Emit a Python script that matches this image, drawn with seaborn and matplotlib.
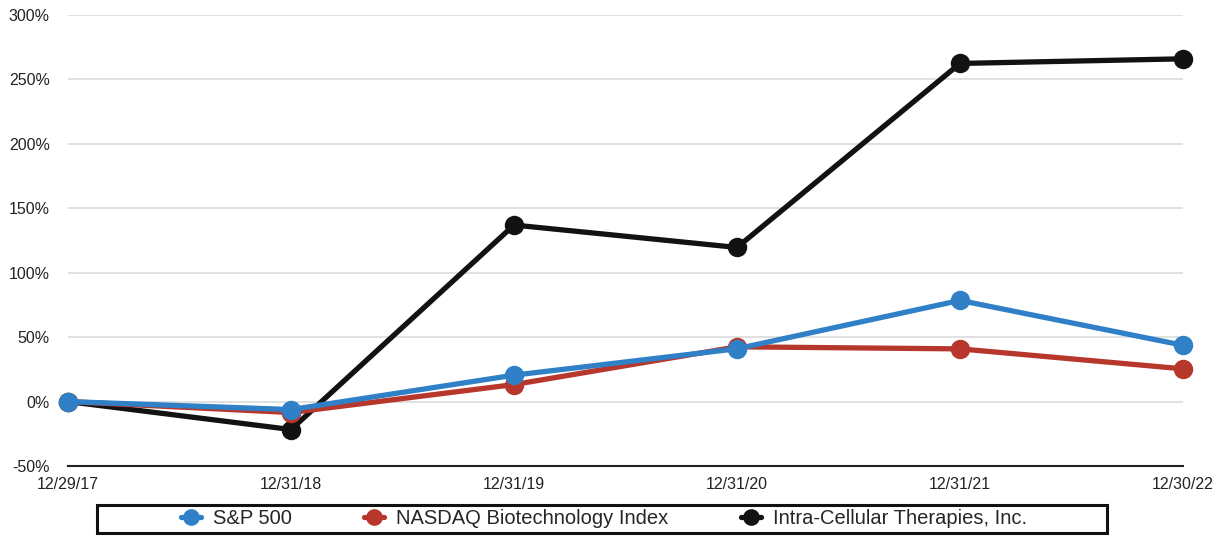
import matplotlib
matplotlib.use("Agg")
import matplotlib.pyplot as plt
import seaborn as sns
import pandas as pd
from matplotlib.patches import Rectangle
from matplotlib.lines import Line2D
from matplotlib.ticker import FuncFormatter

dates = ["12/29/17", "12/31/18", "12/31/19", "12/31/20", "12/31/21", "12/30/22"]
sp500 = [0.0, -6.2, 20.5, 41.0, 78.5, 43.7]
nasdaq_bio = [0.0, -8.5, 13.2, 42.5, 40.9, 25.4]
intra_cellular = [0.0, -21.7, 137.0, 119.6, 262.4, 266.0]
series_names = ["S&P 500", "NASDAQ Biotechnology Index", "Intra-Cellular Therapies, Inc."]
colors = ["#2f80c6", "#b8372c", "#121212"]

rows = []
for name, vals in zip(series_names, [sp500, nasdaq_bio, intra_cellular]):
    for i, v in enumerate(vals):
        rows.append({"idx": i, "value": v, "series": name})
df = pd.DataFrame(rows)

sns.set_theme(style="white")
plt.rcParams['font.family'] = ['Liberation Sans', 'DejaVu Sans']

fig = plt.figure(figsize=(12.28, 5.37), dpi=100)
ax = fig.add_axes([68/1228, 1-466/537, (1183-68)/1228, (466-15)/537])

order = ["Intra-Cellular Therapies, Inc.", "NASDAQ Biotechnology Index", "S&P 500"]
for name in order:
    c = colors[series_names.index(name)]
    sub = df[df.series == name]
    sns.lineplot(data=sub, x="idx", y="value", ax=ax, color=c, linewidth=3.8,
                 marker="o", markersize=14, markeredgewidth=0,
                 legend=False)
for ln in ax.lines:
    ln.set_clip_on(False)

ax.set_xlim(0, len(dates) - 1)
ax.set_ylim(-50, 300)
ax.set_yticks(range(-50, 301, 50))
ax.yaxis.set_major_formatter(FuncFormatter(lambda v, p: f"{int(v)}%"))
ax.set_xticks(range(len(dates)))
ax.set_xticklabels(dates)
ax.set_xlabel("")
ax.set_ylabel("")
ax.grid(axis="y", color="#dcdcdc", linewidth=1.2)
ax.grid(axis="x", visible=False)
for s in ["top", "left", "right"]:
    ax.spines[s].set_visible(False)
ax.spines["bottom"].set_color("#222222")
ax.spines["bottom"].set_linewidth(1.5)
ax.tick_params(axis="y", labelsize=11.5, pad=13, length=0, colors="#222222")
ax.tick_params(axis="x", labelsize=11.5, pad=8, length=0, colors="#222222")

handles = [Line2D([0], [0], color=c, linewidth=3.8, marker="o", markersize=12,
                  markeredgewidth=0) for c in colors]
leg = fig.legend(handles, series_names, loc="center", bbox_to_anchor=(604/1228, 1-519/537),
                 ncol=3, frameon=False, fontsize=14.5, handlelength=1.0,
                 columnspacing=3.6, handletextpad=0.6)

fig.patches.append(Rectangle((97/1228, 1-533/537), 1010/1228, 28/537,
                             transform=fig.transFigure, fill=False,
                             edgecolor="#111111", linewidth=2.2))

fig.savefig("out.png", dpi=100)
